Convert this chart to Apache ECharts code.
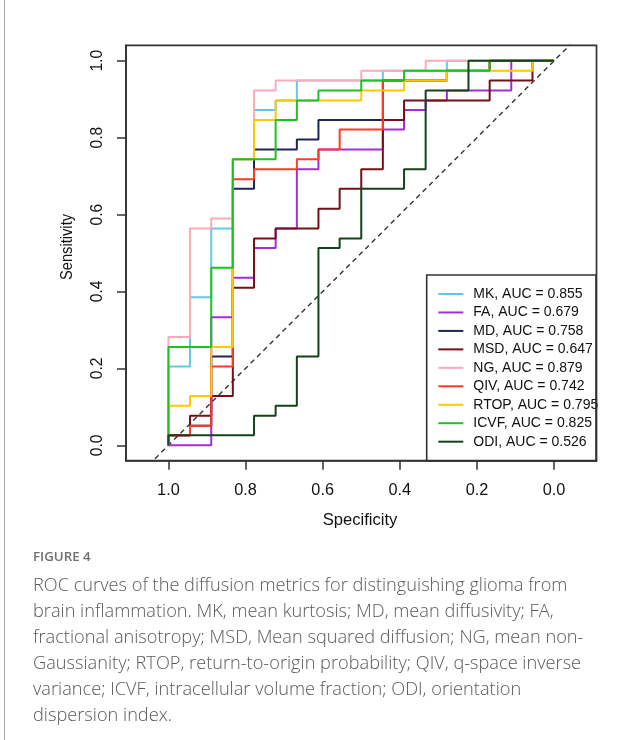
<!DOCTYPE html>
<html><head><meta charset="utf-8">
<script src="https://cdn.jsdelivr.net/npm/echarts@6/dist/echarts.min.js"></script>
<style>html,body{margin:0;padding:0;background:#fff}#c{width:643px;height:740px}</style>
</head><body><div id="c"></div>
<script>
// ---- data: [specificity, sensitivity] corner points ----
const metrics = ['MK', 'FA', 'MD', 'MSD', 'NG', 'QIV', 'RTOP', 'ICVF', 'ODI'];
const aucValues = ['0.855', '0.679', '0.758', '0.647', '0.879', '0.742', '0.795', '0.825', '0.526'];

const MK = [[1,0],[1,0.205],[0.944,0.205],[0.944,0.385],[0.889,0.385],[0.889,0.564],[0.833,0.564],[0.833,0.744],[0.778,0.744],[0.778,0.872],[0.722,0.872],[0.722,0.897],[0.667,0.897],[0.667,0.949],[0.444,0.949],[0.444,0.974],[0.278,0.974],[0.278,1],[0,1]];
const FA = [[1,0],[0.889,0],[0.889,0.333],[0.833,0.333],[0.833,0.436],[0.778,0.436],[0.778,0.513],[0.722,0.513],[0.722,0.564],[0.667,0.564],[0.667,0.718],[0.611,0.718],[0.611,0.769],[0.444,0.769],[0.444,0.821],[0.389,0.821],[0.389,0.872],[0.333,0.872],[0.333,0.897],[0.278,0.897],[0.278,0.923],[0.111,0.923],[0.111,1],[0,1]];
const MD = [[1,0],[1,0.026],[0.944,0.026],[0.944,0.051],[0.889,0.051],[0.889,0.231],[0.833,0.231],[0.833,0.667],[0.778,0.667],[0.778,0.769],[0.667,0.769],[0.667,0.795],[0.611,0.795],[0.611,0.846],[0.444,0.846],[0.444,0.949],[0.278,0.949],[0.278,0.974],[0.167,0.974],[0.167,1],[0,1]];
const MSD = [[1,0],[1,0.026],[0.944,0.026],[0.944,0.077],[0.889,0.077],[0.889,0.128],[0.833,0.128],[0.833,0.41],[0.778,0.41],[0.778,0.538],[0.722,0.538],[0.722,0.564],[0.611,0.564],[0.611,0.615],[0.556,0.615],[0.556,0.667],[0.5,0.667],[0.5,0.718],[0.444,0.718],[0.444,0.846],[0.389,0.846],[0.389,0.897],[0.167,0.897],[0.167,0.949],[0.056,0.949],[0.056,1],[0,1]];
const NG = [[1,0],[1,0.282],[0.944,0.282],[0.944,0.564],[0.889,0.564],[0.889,0.59],[0.833,0.59],[0.833,0.744],[0.778,0.744],[0.778,0.923],[0.722,0.923],[0.722,0.949],[0.5,0.949],[0.5,0.974],[0.333,0.974],[0.333,1],[0,1]];
const QIV = [[1,0],[1,0.026],[0.944,0.026],[0.944,0.051],[0.889,0.051],[0.889,0.205],[0.833,0.205],[0.833,0.692],[0.778,0.692],[0.778,0.718],[0.667,0.718],[0.667,0.744],[0.611,0.744],[0.611,0.769],[0.556,0.769],[0.556,0.821],[0.444,0.821],[0.444,0.949],[0.278,0.949],[0.278,0.974],[0.167,0.974],[0.167,1],[0,1]];
const RTOP = [[1,0],[1,0.103],[0.944,0.103],[0.944,0.128],[0.889,0.128],[0.889,0.256],[0.833,0.256],[0.833,0.744],[0.778,0.744],[0.778,0.846],[0.722,0.846],[0.722,0.897],[0.5,0.897],[0.5,0.923],[0.389,0.923],[0.389,0.949],[0.278,0.949],[0.278,0.974],[0.056,0.974],[0.056,1],[0,1]];
const ICVF = [[1,0],[1,0.256],[0.889,0.256],[0.889,0.462],[0.833,0.462],[0.833,0.744],[0.722,0.744],[0.722,0.846],[0.667,0.846],[0.667,0.897],[0.611,0.897],[0.611,0.923],[0.5,0.923],[0.5,0.949],[0.389,0.949],[0.389,0.974],[0.167,0.974],[0.167,1],[0,1]];
const ODI = [[1,0],[1,0.026],[0.778,0.026],[0.778,0.077],[0.722,0.077],[0.722,0.103],[0.667,0.103],[0.667,0.231],[0.611,0.231],[0.611,0.513],[0.556,0.513],[0.556,0.538],[0.5,0.538],[0.5,0.667],[0.389,0.667],[0.389,0.718],[0.333,0.718],[0.333,0.923],[0.222,0.923],[0.222,1],[0,1]];

const xTicks = [1.0, 0.8, 0.6, 0.4, 0.2, 0.0];
const yTicks = [0.0, 0.2, 0.4, 0.6, 0.8, 1.0];
const chanceLine = [[1.2, -0.2], [-0.2, 1.2]];

const curves = [MK, FA, MD, MSD, NG, QIV, RTOP, ICVF, ODI];
const colors = ['#67C5EC', '#A32CD9', '#1D2454', '#741016', '#FFA9B9', '#FF3B26', '#FFC800', '#1DC21D', '#14421A'];
const captionLines = [
  'ROC curves of the diffusion metrics for distinguishing glioma from',
  'brain inflammation. MK, mean kurtosis; MD, mean diffusivity; FA,',
  'fractional anisotropy; MSD, Mean squared diffusion; NG, mean non-',
  'Gaussianity; RTOP, return-to-origin probability; QIV, q-space inverse',
  'variance; ICVF, intracellular volume fraction; ODI, orientation',
  'dispersion index.'
];

// ---- chart ----
const names = metrics.map((m, k) => m + ', AUC = ' + aucValues[k]);
const FONT = 'Liberation Sans, Arial, sans-serif';
const chart = echarts.init(document.getElementById('c'), null, {renderer: 'canvas'});

const series = [{
  type: 'line', name: 'chance', data: chanceLine, showSymbol: false, symbol: 'none',
  silent: true, clip: true,
  lineStyle: {color: '#333', width: 1.4, type: [5, 4]}
}].concat(curves.map((d, k) => ({
  type: 'line', name: names[k], data: d, showSymbol: false, symbol: 'none',
  clip: true, silent: true, color: colors[k],
  lineStyle: {color: colors[k], width: 2}
})));

const graphic = [
  {type: 'line', shape: {x1: 4.5, y1: 0, x2: 4.5, y2: 740}, style: {stroke: '#a8a8a8', lineWidth: 1}},
  {type: 'rect', z: 100, shape: {x: 426.7, y: 275, width: 169.3, height: 186}, style: {fill: 'none', stroke: '#333', lineWidth: 1.6}},
  {type: 'text', x: 67, y: 247, rotation: Math.PI / 2, scaleY: 1.12, style: {text: 'Sensitivity', fontSize: 14.7, fontFamily: FONT, fill: '#111', align: 'center', verticalAlign: 'middle'}},
  {type: 'text', x: 360, y: 520, style: {text: 'Specificity', fontSize: 16.6, fontFamily: FONT, fill: '#111', align: 'center', verticalAlign: 'middle'}},
  {type: 'text', x: 33, y: 557, style: {text: 'FIGURE 4', fontSize: 13.3, fontWeight: 600, fontFamily: 'Open Sans, sans-serif', fill: '#707070', verticalAlign: 'middle'}}
].concat(captionLines.map((t, k) => ({
  type: 'text', x: 33, y: 586 + k * 26,
  style: {text: t, fontSize: 18.2, fontWeight: 300, fontFamily: 'Open Sans, sans-serif', fill: '#5a5a5a', verticalAlign: 'middle'}
})));

chart.setOption({
  animation: false,
  backgroundColor: '#fff',
  grid: {left: 126, top: 45.4, width: 470.5, height: 415.3, show: true, borderColor: '#333', borderWidth: 1.7, backgroundColor: 'transparent'},
  xAxis: {
    type: 'value', inverse: true, min: -0.11, max: 1.11,
    axisLine: {show: true, onZero: false, lineStyle: {color: '#333', width: 1.7}},
    axisTick: {show: true, length: 9, customValues: xTicks, lineStyle: {color: '#333', width: 1.5}},
    axisLabel: {customValues: xTicks, formatter: v => Number(v).toFixed(1), fontSize: 16.3, margin: 22, color: '#111', fontFamily: FONT},
    splitLine: {show: false}
  },
  yAxis: {
    type: 'value', min: -0.04, max: 1.04,
    axisLine: {show: true, onZero: false, lineStyle: {color: '#333', width: 1.7}},
    axisTick: {show: true, length: 9, customValues: yTicks, lineStyle: {color: '#333', width: 1.5}},
    axisLabel: {customValues: yTicks, formatter: v => Number(v).toFixed(1), rotate: 90, fontSize: 15.6, margin: 20, color: '#111', fontFamily: FONT},
    splitLine: {show: false}
  },
  legend: {
    orient: 'vertical', left: 438.3, top: 287, padding: 0,
    itemWidth: 25, itemHeight: 14, itemGap: 4.46, selectedMode: false,
    icon: 'path://M0,0H25V2H0Z',
    data: names,
    textStyle: {fontSize: 14, fontFamily: FONT, color: '#111', padding: [0, 0, 0, 5]}
  },
  series: series,
  graphic: graphic
});
</script>
</body></html>
